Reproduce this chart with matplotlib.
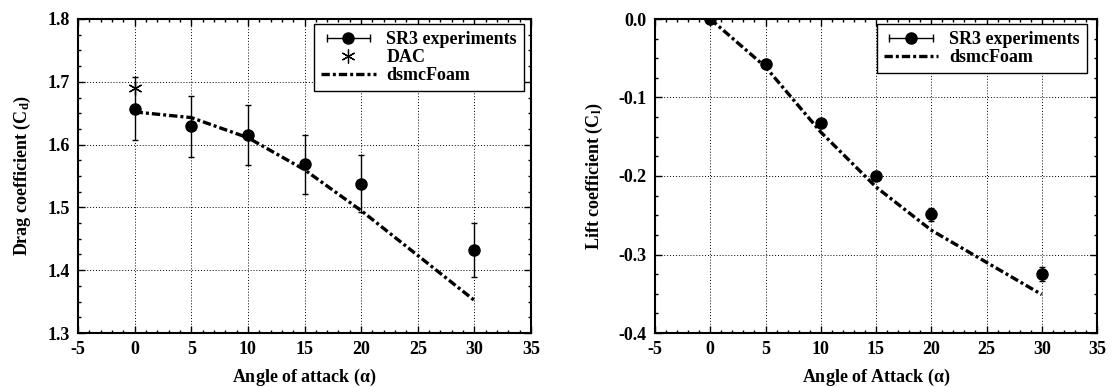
import matplotlib
matplotlib.use("Agg")
import matplotlib.pyplot as plt
from matplotlib.lines import Line2D
from matplotlib.legend_handler import HandlerLine2D
from matplotlib.ticker import MultipleLocator, AutoMinorLocator

plt.rcParams['font.family'] = ['Liberation Serif', 'DejaVu Serif']
plt.rcParams['font.weight'] = 'bold'
plt.rcParams['font.size'] = 13
plt.rcParams['axes.unicode_minus'] = False
plt.rcParams['mathtext.fontset'] = 'custom'
plt.rcParams['mathtext.rm'] = 'Liberation Serif'
plt.rcParams['mathtext.it'] = 'Liberation Serif:italic'
plt.rcParams['mathtext.bf'] = 'Liberation Serif:bold'

# angles of attack
alpha = [0, 5, 10, 15, 20, 30]

# drag
cd_exp = [1.657, 1.629, 1.615, 1.569, 1.538, 1.432]
cd_err = [0.050, 0.049, 0.048, 0.047, 0.046, 0.043]
cd_dac_x = [0]
cd_dac = [1.690]
cd_dsmc = [1.652, 1.643, 1.611, 1.560, 1.495, 1.352]

# lift
cl_exp = [0.0, -0.057, -0.132, -0.200, -0.249, -0.325]
cl_err = [0.002, 0.003, 0.004, 0.005, 0.008, 0.009]
cl_dsmc = [0.0, -0.061, -0.144, -0.214, -0.269, -0.351]

xticks = [-5, 0, 5, 10, 15, 20, 25, 30, 35]

fig = plt.figure(figsize=(11.18, 3.87), dpi=100)
ax1 = fig.add_axes([78 / 1118, 1 - 333 / 387, 453 / 1118, 314 / 387])
ax2 = fig.add_axes([655 / 1118, 1 - 333 / 387, 442 / 1118, 314 / 387])

dash = (2.5, 0.9, 0.9, 0.9)


def style_axes(ax, ylim, ystep):
    ax.set_xlim(-5, 35)
    ax.set_ylim(*ylim)
    ax.set_xticks(xticks)
    ax.yaxis.set_major_locator(MultipleLocator(ystep))
    ax.xaxis.set_minor_locator(AutoMinorLocator(5))
    ax.yaxis.set_minor_locator(AutoMinorLocator(4))
    ax.tick_params(which='both', direction='in', top=True, right=True, width=1)
    ax.tick_params(which='major', length=5, pad=6, labelsize=13)
    ax.tick_params(which='minor', length=2.5)
    ax.grid(True, which='major', color='black', linestyle=(0, (1, 2)), linewidth=0.7)
    for s in ax.spines.values():
        s.set_linewidth(1.5)
    for lab in ax.get_xticklabels() + ax.get_yticklabels():
        lab.set_fontweight('bold')


def exp_handle():
    caps = Line2D([], [], color='black', lw=1, marker='|', ms=6, mew=1)
    dot = Line2D([], [], ls='none', color='black', marker='o', ms=8)
    return (caps, dot), caps


leg_kw = dict(fancybox=False, framealpha=1, edgecolor='black',
              handlelength=3.0, labelspacing=0.05, borderpad=0.4,
              borderaxespad=0, handletextpad=0.6,
              prop={'weight': 'bold', 'size': 13})

# drag plot
ax1.errorbar(alpha, cd_exp, yerr=cd_err, fmt='o', color='black', ms=8,
             elinewidth=1, capsize=2.5, capthick=1, zorder=4)
ax1.plot(cd_dac_x, cd_dac, ls='none', marker=(6, 2, 0), ms=10, mew=0.9,
         color='black', zorder=5)
ax1.plot(alpha, cd_dsmc, color='black', lw=2.4, dashes=dash, zorder=3)
style_axes(ax1, (1.3, 1.8), 0.1)
ax1.yaxis.set_major_formatter(plt.FormatStrFormatter('%.1f'))
ax1.set_xlabel(r'Angle of attack ($\mathrm{\alpha}$)', fontweight='bold', labelpad=6)
ax1.set_ylabel(r'Drag coefficient (C$_{\mathbf{d}}$)', fontweight='bold', labelpad=10)

h1, caps1 = exp_handle()
dac_h = Line2D([], [], ls='none', marker=(6, 2, 0), ms=10, mew=0.9, color='black')
dsmc_h = Line2D([], [], color='black', lw=2.4, dashes=dash)
leg1 = ax1.legend([h1, dac_h, dsmc_h], ['SR3 experiments', 'DAC', 'dsmcFoam'],
                  handler_map={caps1: HandlerLine2D(numpoints=2)},
                  loc='upper right', bbox_to_anchor=(0.985, 0.984), **leg_kw)
leg1.get_frame().set_linewidth(1)

# lift plot
ax2.errorbar(alpha, cl_exp, yerr=cl_err, fmt='o', color='black', ms=8,
             elinewidth=1, capsize=2.5, capthick=1, zorder=4)
ax2.plot(alpha, cl_dsmc, color='black', lw=2.4, dashes=dash, zorder=3)
style_axes(ax2, (-0.4, 0.0), 0.1)
ax2.yaxis.set_major_formatter(plt.FormatStrFormatter('%.1f'))
ax2.set_xlabel(r'Angle of Attack ($\mathrm{\alpha}$)', fontweight='bold', labelpad=6)
ax2.set_ylabel(r'Lift coefficient (C$_{\mathbf{l}}$)', fontweight='bold', labelpad=10)

h2, caps2 = exp_handle()
dsmc_h2 = Line2D([], [], color='black', lw=2.4, dashes=dash)
leg2 = ax2.legend([h2, dsmc_h2], ['SR3 experiments', 'dsmcFoam'],
                  handler_map={caps2: HandlerLine2D(numpoints=2)},
                  loc='upper right', bbox_to_anchor=(0.977, 0.984), **leg_kw)
leg2.get_frame().set_linewidth(1)

fig.savefig('out.png', dpi=100)
